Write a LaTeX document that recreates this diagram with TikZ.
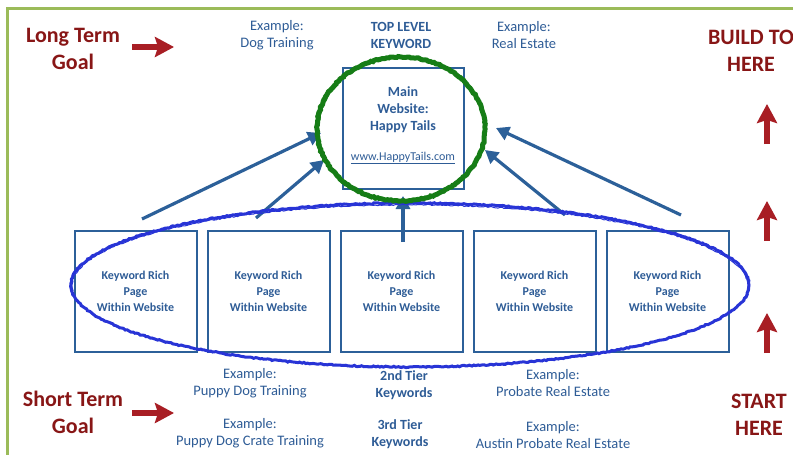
\documentclass[tikz,border=0pt]{standalone}
\usepackage{fontspec}
\setmainfont{Carlito}
\usetikzlibrary{arrows.meta,positioning,decorations.pathmorphing}
\definecolor{txtblue}{RGB}{46,92,150}
\definecolor{boxblue}{RGB}{44,96,153}
\definecolor{goalred}{RGB}{136,22,22}
\definecolor{arrred}{RGB}{168,30,36}
\definecolor{framegreen}{RGB}{155,187,89}
\definecolor{ringgreen}{RGB}{22,125,22}
\definecolor{ovalblue}{RGB}{40,52,214}
\tikzset{
  goal/.style={text=goalred, font=\fontsize{22}{27}\selectfont\bfseries, align=center},
  example/.style={text=txtblue, font=\fontsize{14.5}{17}\selectfont, align=center},
  tier/.style={text=txtblue, font=\fontsize{14}{17}\selectfont\bfseries, align=center},
  pagebox/.style={draw=boxblue, line width=2pt, minimum width=122pt, minimum height=121pt,
    inner sep=0pt, outer sep=0pt, text=txtblue, font=\fontsize{12}{16}\selectfont\bfseries, align=center},
  linkarrow/.style={draw=boxblue, line width=3.2pt, -{Triangle[length=13pt,width=14pt]}},
  redarrow/.style={draw=arrred, line width=5.5pt, -{Stealth[length=19pt,width=20pt,inset=3pt]}},
  sketchy/.style={decorate, decoration={random steps, segment length=2pt, amplitude=0.6pt}}
}
\begin{document}
\begin{tikzpicture}[x=1pt,y=-1pt]
\useasboundingbox (0,0) rectangle (793,455);
\draw [framegreen, line width=3pt] (7,455) -- (7,8) -- (793,8);
% top row
\node [goal] (longgoal) at (73,48.5) {Long Term\\Goal};
\node [example] (exdog) at (277,35.5) {Example:\\Dog Training};
\node [tier] (toplevel) at (401,35.5) {TOP LEVEL\\KEYWORD};
\node [example] (exestate) at (524,35.5) {Example:\\Real Estate};
\node [goal] (buildto) at (751,50.5) {BUILD TO\\HERE};
\coordinate (lgtail) at (132,47);
\coordinate (lghead) at (174,47);
\draw [redarrow] (lgtail) -- (lghead);
% main website
\node [pagebox, minimum width=121pt] (main) at (403.5,128.5) {};
\node [tier] (maintitle) at (403,110) {Main\\Website:\\Happy Tails};
\node [text=txtblue, font=\fontsize{12}{14}\selectfont] (url) at (403,158) {\underline{www.HappyTails.com}};
% pages
\node [pagebox] (p1) at (135.5,291.5) {Keyword Rich\\Page\\Within Website};
\node [pagebox, right=11pt of p1] (p2) {Keyword Rich\\Page\\Within Website};
\node [pagebox, right=11pt of p2] (p3) {Keyword Rich\\Page\\Within Website};
\node [pagebox, right=11pt of p3] (p4) {Keyword Rich\\Page\\Within Website};
\node [pagebox, right=11pt of p4] (p5) {Keyword Rich\\Page\\Within Website};
\coordinate (t1) at (142,219);
\coordinate (t2) at (256,218);
\coordinate (t3) at (403,242);
\coordinate (t4) at (565,215);
\coordinate (t5) at (681,215);
\coordinate (h1) at (321,133);
\coordinate (h2) at (324,160);
\coordinate (h3) at (403,196);
\coordinate (h4) at (485,150);
\coordinate (h5) at (496,128);
\draw [linkarrow] (t1) -- (h1);
\draw [linkarrow] (t2) -- (h2);
\draw [linkarrow] (t3) -- (h3);
\draw [linkarrow] (t4) -- (h4);
\draw [linkarrow] (t5) -- (h5);
% build up arrows
\coordinate (u1) at (767,144);
\coordinate (v1) at (767,104);
\coordinate (u2) at (767,241);
\coordinate (v2) at (767,201);
\coordinate (u3) at (767,353);
\coordinate (v3) at (767,313);
\draw [redarrow] (u1) -- (v1);
\draw [redarrow] (u2) -- (v2);
\draw [redarrow] (u3) -- (v3);
% bottom rows
\node [goal] (shortgoal) at (73,412) {Short Term\\Goal};
\coordinate (sgtail) at (132,413);
\coordinate (sghead) at (174,413);
\draw [redarrow] (sgtail) -- (sghead);
\node [example] (expuppy) at (250,383.5) {Example:\\Puppy Dog Training};
\node [tier] (tiertwo) at (404,385) {2nd Tier\\Keywords};
\node [example] (exprobate) at (553,383.5) {Example:\\Probate Real Estate};
\node [example] (excrate) at (250,433.5) {Example:\\Puppy Dog Crate Training};
\node [tier] (tierthree) at (400,434.5) {3rd Tier\\Keywords};
\node [example] (exaustin) at (553,435.5) {Example:\\Austin Probate Real Estate};
\node [goal] (starthere) at (759,414.5) {START\\HERE};
% hand drawn rings
\draw [sketchy, ovalblue, line width=3pt] (410,285) ellipse [x radius=339, y radius=82];
\draw [sketchy, ovalblue, line width=1pt] (410,285.8) ellipse [x radius=338, y radius=81];
\draw [sketchy, ringgreen, line width=5pt] (401,129) ellipse [x radius=84, y radius=72];
\draw [sketchy, ringgreen, line width=1.5pt] (401.5,129) ellipse [x radius=83, y radius=71.5];
\end{tikzpicture}
\end{document}
